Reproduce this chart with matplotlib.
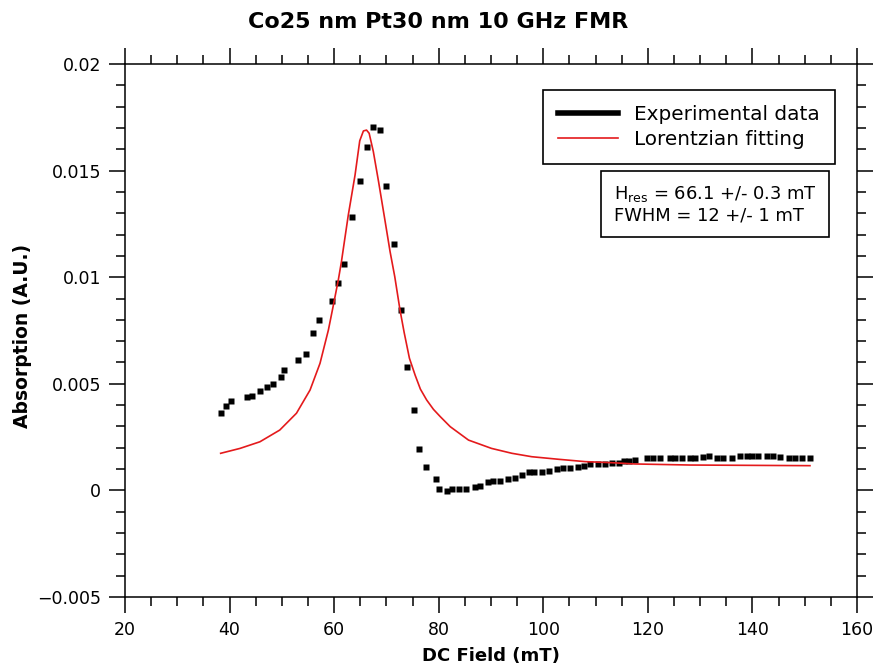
import numpy as np
import matplotlib
matplotlib.use("Agg")
import matplotlib.pyplot as plt
from matplotlib.lines import Line2D
from matplotlib.ticker import MultipleLocator, FuncFormatter

field = [38.4, 39.3, 40.3, 43.3, 44.2, 45.8, 47.1, 48.4, 49.8, 50.4,
         53.0, 54.6, 55.9, 57.2, 59.5, 60.7, 61.9, 63.4, 64.9, 66.3,
         67.5, 68.8, 69.9, 71.4, 72.8, 74.0, 75.3, 76.3, 77.6, 79.5,
         80.1, 81.5, 82.5, 83.8, 85.2, 86.9, 87.9, 89.5, 90.4, 91.7,
         93.3, 94.6, 95.9, 97.3, 98.3, 99.7, 101.1, 102.6, 103.8, 105.2,
         106.6, 107.7, 108.9, 110.5, 111.8, 113.1, 114.4, 115.5, 116.4, 117.5,
         119.8, 121.0, 122.3, 124.2, 125.2, 126.5, 128.1, 129.0, 130.6, 131.6,
         133.2, 134.4, 136.0, 137.6, 138.9, 139.9, 141.1, 142.7, 144.0, 145.3,
         146.9, 148.1, 149.4, 151.0]
absorption = [0.00364, 0.00394, 0.00418, 0.00437, 0.00443, 0.00466, 0.00484, 0.00499, 0.00530, 0.00566,
              0.00610, 0.00640, 0.00737, 0.00799, 0.00887, 0.00973, 0.01061, 0.01284, 0.01451, 0.01611,
              0.01705, 0.01689, 0.01426, 0.01157, 0.00848, 0.00577, 0.00379, 0.00196, 0.00108, 0.00055,
              0.00005, -0.00001, 0.00007, 0.00007, 0.00007, 0.00016, 0.00021, 0.00038, 0.00043, 0.00046,
              0.00053, 0.00057, 0.00071, 0.00085, 0.00085, 0.00085, 0.00091, 0.00100, 0.00104, 0.00106,
              0.00111, 0.00116, 0.00122, 0.00124, 0.00124, 0.00127, 0.00130, 0.00138, 0.00138, 0.00143,
              0.00151, 0.00151, 0.00151, 0.00151, 0.00151, 0.00151, 0.00151, 0.00151, 0.00158, 0.00161,
              0.00151, 0.00151, 0.00151, 0.00163, 0.00163, 0.00163, 0.00163, 0.00163, 0.00163, 0.00155,
              0.00151, 0.00151, 0.00151, 0.00151]

# lorentzian fit curve
fit_field = [38.3, 42.0, 45.8, 49.6, 52.8, 55.4, 57.3, 58.9, 59.8, 60.8,
             61.4, 61.8, 62.7, 64.0, 64.9, 65.6, 66.2, 66.7, 67.5, 68.5,
             69.7, 70.7, 71.6, 72.6, 73.4, 74.4, 75.5, 76.5, 77.7, 79.0,
             80.3, 82.2, 85.7, 90.1, 94.0, 97.8, 102.9, 108.0, 113.1, 117.5,
             128.1, 151.0]
fit_abs = [0.00174, 0.00197, 0.00228, 0.00283, 0.00362, 0.00471, 0.00596, 0.00752, 0.00862, 0.00987,
           0.01073, 0.01140, 0.01290, 0.01479, 0.01640, 0.01686, 0.01690, 0.01675, 0.01589, 0.01448,
           0.01270, 0.01120, 0.01002, 0.00846, 0.00740, 0.00620, 0.00540, 0.00475, 0.00424, 0.00380,
           0.00346, 0.00299, 0.00236, 0.00197, 0.00174, 0.00158, 0.00146, 0.00135, 0.00130, 0.00124,
           0.00119, 0.00116]

fig = plt.figure(figsize=(8.77, 6.66), dpi=100)
ax = fig.add_axes([0.1425, 0.1036, 0.8347, 0.8003])

ax.plot(field, absorption, 's', color='black', ms=3.8, mec='none')
ax.plot(fit_field, fit_abs, '-', color='#e41a1c', lw=1.2)

ax.set_xlim(20, 160)
ax.set_ylim(-0.005, 0.02)
ax.xaxis.set_major_locator(MultipleLocator(20))
ax.xaxis.set_minor_locator(MultipleLocator(5))
ax.yaxis.set_major_locator(MultipleLocator(0.005))
ax.yaxis.set_minor_locator(MultipleLocator(0.001))

def yfmt(v, pos):
    if abs(v) < 1e-12:
        return '0'
    s = ('%.3f' % v).rstrip('0')
    return s.replace('-', '\u2212')
ax.yaxis.set_major_formatter(FuncFormatter(yfmt))

for sp in ax.spines.values():
    sp.set_linewidth(1.1)
ax.tick_params(which='both', direction='out', top=True, right=True, width=1.1, labelsize=12.5)
ax.tick_params(which='major', length=11.5)
ax.tick_params(which='minor', length=6.5)
ax.tick_params(axis='x', which='major', pad=6)
ax.tick_params(axis='y', which='major', pad=5.5)

ax.set_xlabel('DC Field (mT)', fontsize=13, fontweight='bold')
ax.xaxis.set_label_coords(0.5, -0.093)
ax.set_ylabel('Absorption (A.U.)', fontsize=13.5, fontweight='bold')
ax.yaxis.set_label_coords(-0.127, 0.49)

fig.suptitle('Co25 nm Pt30 nm 10 GHz FMR', fontsize=16, fontweight='bold', y=0.967, va='center', x=0.5)

handles = [Line2D([], [], color='black', lw=4),
           Line2D([], [], color='#e41a1c', lw=1.2)]
leg = ax.legend(handles, ['Experimental data', 'Lorentzian fitting'],
                loc='upper right', bbox_to_anchor=(0.970, 0.951), borderaxespad=0,
                fontsize=14.4, fancybox=False, framealpha=1, edgecolor='black',
                handlelength=3.0, handletextpad=0.8, borderpad=0.75, labelspacing=0.3)
leg.get_frame().set_linewidth(1.2)

ax.text(0.668, 0.774, 'H$_{\\rm res}$ = 66.1 +/- 0.3 mT\nFWHM = 12 +/- 1 mT',
        transform=ax.transAxes, ha='left', va='top', fontsize=12.9, linespacing=1.15,
        bbox=dict(boxstyle='square,pad=0.7', fc='white', ec='black', lw=1.2))

fig.savefig('out.png', dpi=100)
